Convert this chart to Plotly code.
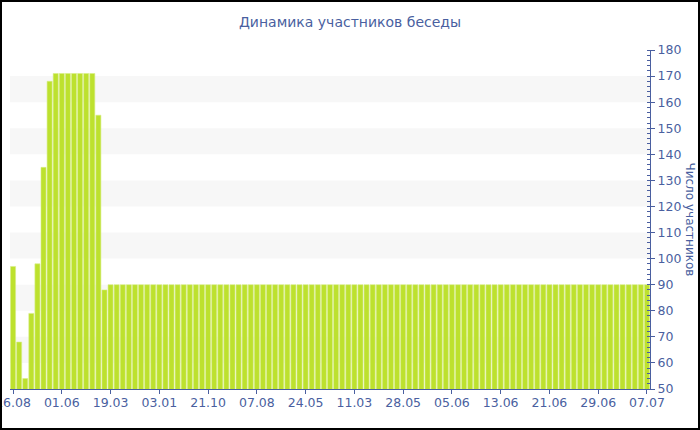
import plotly.graph_objects as go

# ---- data ----
participants = [97, 68, 54, 79, 98, 135, 168,
                171, 171, 171, 171, 171, 171, 171,
                155, 88,
                90, 90, 90, 90, 90, 90, 90, 90, 90, 90,
                90, 90, 90, 90, 90, 90, 90, 90, 90, 90,
                90, 90, 90, 90, 90, 90, 90, 90, 90, 90,
                90, 90, 90, 90, 90, 90, 90, 90, 90, 90,
                90, 90, 90, 90, 90, 90, 90, 90, 90, 90,
                90, 90, 90, 90, 90, 90, 90, 90, 90, 90,
                90, 90, 90, 90, 90, 90, 90, 90, 90, 90,
                90, 90, 90, 90, 90, 90, 90, 90, 90, 90,
                90, 90, 90, 90, 90, 90, 90, 90, 90]
tick_labels = ["16.08", "01.06", "19.03", "03.01", "21.10", "07.08", "24.05",
               "11.03", "28.05", "05.06", "13.06", "21.06", "29.06", "07.07"]
tick_step = 8
y_ticks = [50, 60, 70, 80, 90, 100, 110, 120, 130, 140, 150, 160, 170, 180]
bands = [(60, 70), (80, 90), (100, 110), (120, 130), (140, 150), (160, 170)]

title_text = "Динамика участников беседы"
y_title = "Число участников"

x_idx = list(range(len(participants)))
tick_pos = [i * tick_step for i in range(len(tick_labels))]

BLUE = "#4a5fa0"
FONT = "Verdana, DejaVu Sans, sans-serif"

fig = go.Figure()
fig.add_trace(go.Bar(
    x=x_idx, y=participants,
    marker=dict(color="#bde12e", line=dict(color="#d6ee86", width=0.6)),
    hoverinfo="y",
))

shapes = []
for lo, hi in bands:
    shapes.append(dict(type="rect", xref="paper", yref="y", x0=0, x1=1, y0=lo, y1=hi,
                       fillcolor="#f7f7f7", line=dict(width=0), layer="below"))

W, H = 700, 430
ml, mr, mt, mb = 10, 50, 50, 41
pw, ph = W - ml - mr, H - mt - mb
shapes.append(dict(type="rect", xref="paper", yref="paper",
                   x0=-ml / pw + 1 / pw, x1=1 + (mr - 1) / pw,
                   y0=-(mb - 1) / ph, y1=1 + (mt - 1) / ph,
                   line=dict(color="black", width=2), fillcolor="rgba(0,0,0,0)", layer="above"))

fig.update_layout(
    width=W, height=H,
    margin=dict(l=ml, r=mr, t=mt, b=mb, autoexpand=False),
    paper_bgcolor="white", plot_bgcolor="white",
    bargap=0.17,
    showlegend=False,
    font=dict(family=FONT, color=BLUE, size=12),
    title=dict(text=title_text, x=0.5, xanchor="center", y=1 - 22 / H, yanchor="middle",
               font=dict(family=FONT, size=14, color=BLUE)),
    shapes=shapes,
    xaxis=dict(
        range=[-0.5, len(participants) - 0.5],
        tickmode="array", tickvals=tick_pos, ticktext=tick_labels,
        ticks="outside", ticklen=4, tickcolor=BLUE,
        showline=True, linecolor=BLUE, linewidth=1,
        showgrid=False, zeroline=False, automargin=False,
        ticklabeloverflow="allow", ticklabelstandoff=-2,
        tickfont=dict(family=FONT, size=12.5, color=BLUE),
    ),
    yaxis=dict(
        side="right", range=[50, 180],
        tickmode="array", tickvals=y_ticks,
        ticks="outside", ticklen=4, tickcolor=BLUE,
        minor=dict(dtick=2, ticks="inside", ticklen=3, tickcolor=BLUE, showgrid=False),
        showline=True, linecolor=BLUE, linewidth=1,
        showgrid=False, zeroline=False, automargin=False,
        ticklabeloverflow="allow",
        tickfont=dict(family=FONT, size=12.5, color=BLUE),
    ),
    annotations=[dict(text=y_title, textangle=90, xref="paper", yref="paper",
                      x=1 + 40 / pw, y=0.5, xanchor="center", yanchor="middle",
                      showarrow=False, font=dict(family=FONT, size=12, color=BLUE))],
)

fig.write_html("out.html", config={"displayModeBar": False},
               post_script="document.body.style.margin='0';document.body.style.padding='0';")
